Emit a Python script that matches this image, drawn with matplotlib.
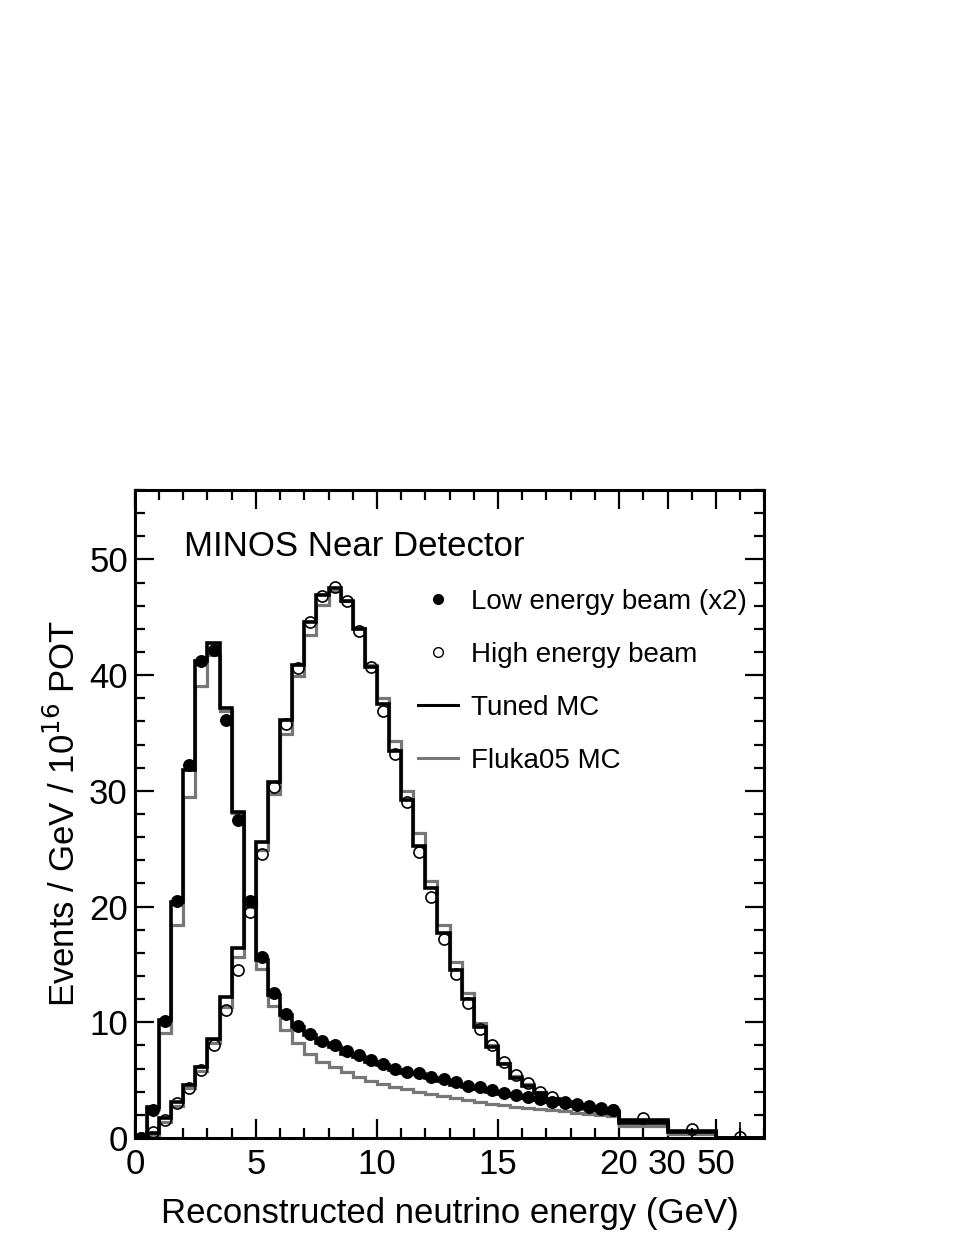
import numpy as np
import matplotlib
matplotlib.use("Agg")
import matplotlib.pyplot as plt
from matplotlib.lines import Line2D
from matplotlib.ticker import FixedLocator, MultipleLocator

# ---- data ----
# bins: 0.5 GeV wide from 0 to 20 GeV, then 20-30, 30-50, 50+ GeV
fine_edges = np.arange(0, 20.5, 0.5)
coarse_labels = ["20", "30", "50"]
tick_labels = ["0", "5", "10", "15", "20", "30", "50"]

le_data = [0.0, 2.4, 10.1, 20.5, 32.2, 41.2, 42.2, 36.1, 27.5, 20.5,
           15.6, 12.5, 10.7, 9.7, 9.0, 8.4, 8.0, 7.5, 7.2, 6.75,
           6.4, 6.0, 5.7, 5.6, 5.3, 5.1, 4.8, 4.5, 4.4, 4.15,
           3.9, 3.7, 3.55, 3.4, 3.1, 3.0, 2.85, 2.7, 2.5, 2.4,
           np.nan, np.nan, np.nan]
le_tuned = [0.2, 2.7, 10.2, 20.4, 31.8, 41.2, 42.8, 37.2, 28.2, 20.6,
            15.4, 12.4, 10.6, 9.6, 8.9, 8.2, 7.9, 7.3, 7.0, 6.6,
            6.3, 5.9, 5.6, 5.5, 5.2, 4.9, 4.6, 4.4, 4.2, 4.0,
            3.8, 3.6, 3.45, 3.3, 3.1, 2.95, 2.8, 2.65, 2.5, 2.35,
            1.3, 0.55, 0.0]
le_fluka = [0.1, 2.5, 9.1, 18.4, 29.5, 39.1, 41.7, 36.9, 28.1, 20.3,
            14.6, 11.4, 9.3, 8.2, 7.3, 6.6, 6.1, 5.7, 5.3, 4.9,
            4.7, 4.4, 4.2, 4.0, 3.8, 3.6, 3.45, 3.3, 3.1, 2.95,
            2.85, 2.7, 2.6, 2.5, 2.4, 2.3, 2.2, 2.1, 2.0, 1.9,
            1.0, 0.35, 0.0]
he_data = [0.0, 0.5, 1.55, 3.0, 4.3, 5.9, 8.0, 11.1, 14.5, 19.5,
           24.5, 30.3, 35.8, 40.6, 44.6, 46.8, 47.6, 46.4, 43.8, 40.7,
           36.9, 33.2, 29.0, 24.7, 20.8, 17.2, 14.2, 11.7, 9.4, 8.0,
           6.6, 5.45, 4.75, 4.0, 3.55, 3.1, 2.95, 2.8, 2.6, 2.4,
           1.7, 0.8, 0.1]
he_err = [0.0] * 42 + [1.3]
he_tuned = [0.0, 0.4, 1.7, 3.1, 4.6, 6.1, 8.6, 12.2, 16.4, 20.3,
            25.6, 30.8, 36.1, 40.9, 44.6, 46.9, 47.5, 46.4, 44.0, 40.7,
            37.5, 33.4, 29.2, 25.2, 21.6, 17.7, 14.5, 12.0, 9.6, 7.9,
            6.4, 5.2, 4.5, 3.9, 3.4, 3.1, 2.8, 2.6, 2.4, 2.2,
            1.6, 0.65, 0.0]
he_fluka = [0.0, 0.3, 1.4, 2.8, 4.3, 5.8, 8.2, 11.3, 15.6, 20.0,
            24.9, 29.7, 34.9, 39.9, 43.5, 46.1, 47.3, 46.4, 44.1, 40.9,
            38.0, 34.3, 30.0, 26.4, 22.2, 18.4, 15.2, 12.5, 9.9, 8.0,
            6.5, 5.4, 4.7, 4.0, 3.5, 3.1, 2.8, 2.55, 2.35, 2.15,
            1.4, 0.5, 0.0]

# display positions: each coarse bin drawn 2 units wide after 20
edges = np.concatenate([fine_edges, 20 + 2 * np.arange(1, len(coarse_labels) + 1)])
centers = 0.5 * (edges[:-1] + edges[1:])
tick_pos = [0, 5, 10, 15, 20, 22, 24]

FAM = ["Liberation Sans", "DejaVu Sans"]
plt.rcParams["font.family"] = FAM

fig = plt.figure(figsize=(9.70, 12.55), dpi=100)
ax = fig.add_axes([0.139, 0.0932, 0.649, 0.5164])

gray = "#777777"
ax.stairs(le_fluka, edges, color=gray, lw=2.3, baseline=0, zorder=2)
ax.stairs(he_fluka, edges, color=gray, lw=2.3, baseline=0, zorder=2)
ax.stairs(le_tuned, edges, color="black", lw=2.6, baseline=0, zorder=3)
ax.stairs(he_tuned, edges, color="black", lw=2.6, baseline=0, zorder=3)

ax.errorbar(centers, he_data, yerr=[np.zeros(len(he_err)), he_err], fmt="o",
            ms=8, mfc="none", mec="black", mew=1.2, ecolor="black",
            elinewidth=1.2, capsize=0, zorder=4)
ax.plot(centers, le_data, "o", ms=8.3, color="black", zorder=5)

ax.set_xlim(edges[0], edges[-1])
ax.set_ylim(0, 56)

ax.xaxis.set_major_locator(FixedLocator(tick_pos))
ax.set_xticklabels(tick_labels)
ax.xaxis.set_minor_locator(MultipleLocator(1))
ax.yaxis.set_major_locator(MultipleLocator(10))
ax.yaxis.set_minor_locator(MultipleLocator(2))

ax.tick_params(which="both", direction="in", top=True, right=True, width=1.6)
ax.tick_params(which="major", length=14)
ax.tick_params(which="minor", length=7)
ax.tick_params(axis="y", which="major", labelsize=25, pad=5)
ax.tick_params(axis="x", which="major", labelsize=25, pad=7)
for sp in ax.spines.values():
    sp.set_linewidth(2.2)

ax.set_xlabel("Reconstructed neutrino energy (GeV)", fontsize=25, labelpad=12)
ax.set_ylabel("Events / GeV / 10$^{16}$ POT", fontsize=25, labelpad=5)

ax.text(0.078, 0.898, "MINOS Near Detector", transform=ax.transAxes,
        fontsize=25, va="baseline", ha="left")

handles = [
    Line2D([], [], ls="none", marker="o", ms=7, color="black"),
    Line2D([], [], ls="none", marker="o", ms=7, mfc="none", mec="black", mew=1.0),
    Line2D([], [], color="black", lw=2.2),
    Line2D([], [], color=gray, lw=2.2),
]
labels = ["Low energy beam (x2)", "High energy beam", "Tuned MC", "Fluka05 MC"]
ax.legend(handles, labels, loc="upper left", bbox_to_anchor=(0.45, 0.847),
          frameon=False, fontsize=20, handlelength=1.45, handletextpad=0.45,
          labelspacing=0.97, borderpad=0, borderaxespad=0)

fig.savefig("out.png", dpi=100)
